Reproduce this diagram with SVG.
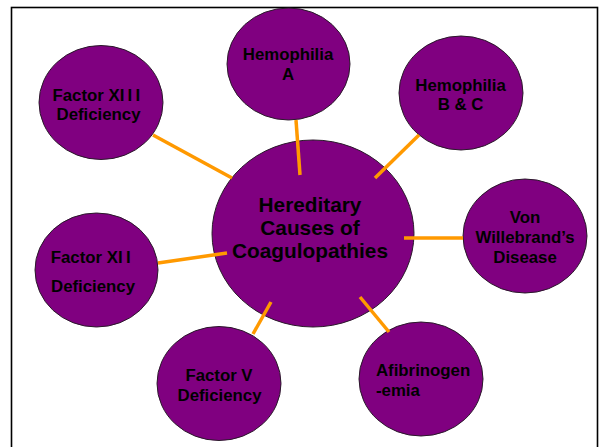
<svg xmlns="http://www.w3.org/2000/svg" width="600" height="447" viewBox="0 0 600 447">
<style>
.node ellipse{fill:#800080;stroke:#2a1a2a;stroke-width:1}
text{font-family:"Liberation Sans",Arial,sans-serif;font-weight:bold;font-size:16.8px;fill:#000;text-anchor:middle}
.big{font-size:20.8px}
.conn line{stroke:#FF9900;stroke-width:3.5}
</style>
<rect x="11.5" y="7.5" width="586" height="470" fill="#fff" stroke="#000" stroke-width="1.6"/>
<g id="center" class="node">
<ellipse cx="313" cy="233.5" rx="101" ry="93.5"/>
<text class="big" x="310" y="212">Hereditary</text>
<text class="big" x="310" y="235">Causes of</text>
<text class="big" x="310" y="258">Coagulopathies</text>
</g>
<g id="hemA" class="node">
<ellipse cx="288.5" cy="64" rx="61.5" ry="56"/>
<text x="288" y="60">Hemophilia</text>
<text x="288" y="80">A</text>
</g>
<g id="hemBC" class="node">
<ellipse cx="461" cy="93" rx="62" ry="57"/>
<text x="460.5" y="91">Hemophilia</text>
<text x="460.5" y="110">B &amp; C</text>
</g>
<g id="f13" class="node">
<ellipse cx="101" cy="102.5" rx="62" ry="57"/>
<text x="98" y="101">Factor X<tspan letter-spacing="3.3">III</tspan></text>
<text x="98.5" y="120">Deficiency</text>
</g>
<g id="vwd" class="node">
<ellipse cx="525" cy="236" rx="62" ry="57"/>
<text x="525" y="223">Von</text>
<text x="525" y="243">Willebrand’s</text>
<text x="525" y="263">Disease</text>
</g>
<g id="f12" class="node">
<ellipse cx="96.5" cy="270" rx="61.5" ry="57"/>
<text x="92.5" y="263">Factor X<tspan letter-spacing="3.5">II</tspan></text>
<text x="93" y="292">Deficiency</text>
</g>
<g id="f5" class="node">
<ellipse cx="219" cy="383.5" rx="62" ry="57"/>
<text x="219" y="381">Factor V</text>
<text x="219.5" y="401">Deficiency</text>
</g>
<g id="afib" class="node">
<ellipse cx="421" cy="379" rx="62" ry="57"/>
<text x="376" y="376" style="text-anchor:start">Afibrinogen</text>
<text x="376" y="396" style="text-anchor:start">-emia</text>
</g>
<g id="connectors" class="conn">
<line x1="153" y1="135" x2="232" y2="178"/>
<line x1="296" y1="120" x2="300" y2="175"/>
<line x1="419" y1="135" x2="375" y2="178"/>
<line x1="404" y1="238" x2="463" y2="238"/>
<line x1="158" y1="263" x2="227" y2="253"/>
<line x1="271" y1="302" x2="253" y2="334"/>
<line x1="360" y1="297" x2="389" y2="332"/>
</g>
</svg>
